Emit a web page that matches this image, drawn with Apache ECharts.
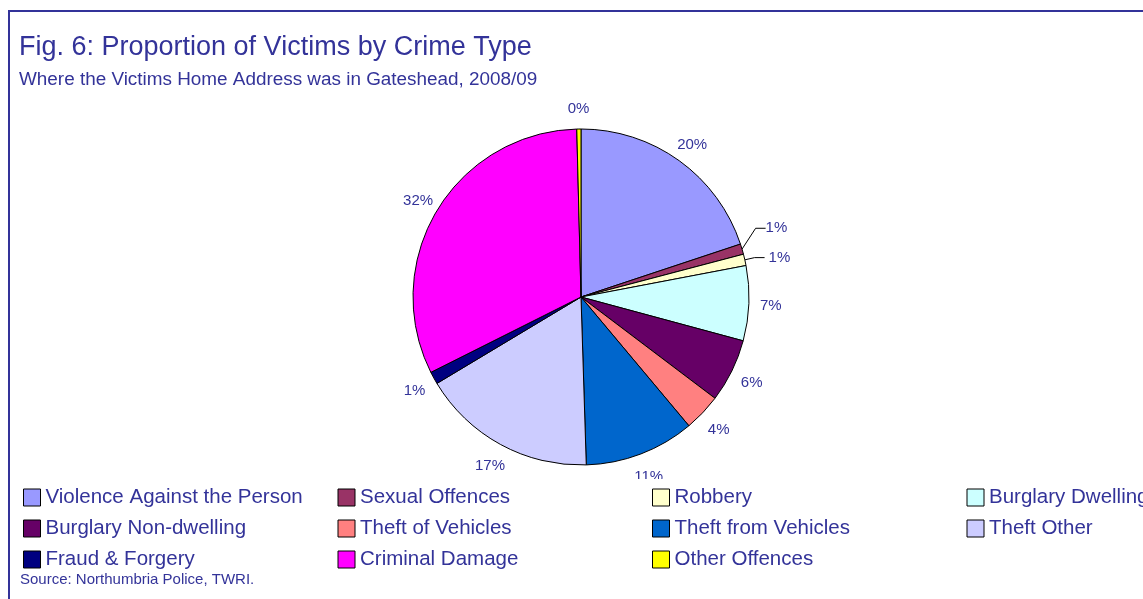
<!DOCTYPE html>
<html>
<head>
<meta charset="utf-8">
<script src="https://cdn.jsdelivr.net/npm/echarts@6/dist/echarts.min.js"></script>
<style>
html,body{margin:0;padding:0;background:#fff;}
#chart{width:1143px;height:599px;}
</style>
</head>
<body>
<div id="chart"></div>
<script>
const titleText = 'Fig. 6: Proportion of Victims by Crime Type';
const subtitleText = 'Where the Victims Home Address was in Gateshead, 2008/09';
const sourceText = 'Source: Northumbria Police, TWRI.';
const categories = [
  'Violence Against the Person', 'Sexual Offences', 'Robbery', 'Burglary Dwelling',
  'Burglary Non-dwelling', 'Theft of Vehicles', 'Theft from Vehicles', 'Theft Other',
  'Fraud & Forgery', 'Criminal Damage', 'Other Offences'
];
const shares = [19.9, 1.0, 1.1, 7.2, 6.1, 3.6, 10.6, 16.9, 1.2, 32.0, 0.4];
const colors = ['#9999FF', '#993366', '#FFFFCC', '#CCFFFF', '#660066', '#FF8080',
                '#0066CC', '#CCCCFF', '#000080', '#FF00FF', '#FFFF00'];
// items whose labels are pulled out with a leader line
const leaderItems = ['Sexual Offences', 'Robbery'];

const INK = '#333399';
const FONT = "'Liberation Sans', Arial, sans-serif";
const total = shares.reduce((a, b) => a + b, 0);
const pct = v => Math.round(v / total * 100) + '%';

const chart = echarts.init(document.getElementById('chart'), null, {renderer: 'canvas'});

const mainData = categories.map((name, i) => ({
  name, value: shares[i],
  itemStyle: {color: colors[i]},
  label: {show: leaderItems.includes(name)},
  labelLine: {show: leaderItems.includes(name)}
}));
const ringData = categories.map((name, i) => ({
  name, value: shares[i],
  label: {show: !leaderItems.includes(name)}
}));

chart.setOption({
  animation: false,
  color: colors,
  title: {
    text: titleText,
    subtext: subtitleText,
    left: 19, top: 34, padding: 0, itemGap: 9,
    textStyle: {fontFamily: FONT, fontSize: 27, fontWeight: 'normal', color: INK},
    subtextStyle: {fontFamily: FONT, fontSize: 18.9, color: INK}
  },
  legend: {
    data: categories,
    left: 23, top: 479, width: 1400,
    orient: 'horizontal',
    icon: 'rect',
    itemWidth: 17, itemHeight: 17, itemGap: 10,
    padding: [8, 0, 0, 0],
    backgroundColor: '#fff',
    z: 10,
    selectedMode: false,
    itemStyle: {borderColor: '#000', borderWidth: 1},
    textStyle: {fontFamily: FONT, fontSize: 20.5, lineHeight: 20, color: INK, width: 282}
  },
  graphic: [
    {type: 'rect', shape: {x: 9, y: 11, width: 1300, height: 800},
     style: {fill: 'none', stroke: INK, lineWidth: 2}, silent: true, z: 20},
    {type: 'text', left: 20, top: 572,
     style: {text: sourceText, font: '15px ' + FONT, fill: INK}, silent: true, z: 20}
  ],
  series: [
    {
      type: 'pie',
      center: [581, 297],
      radius: 168,
      startAngle: 90,
      clockwise: true,
      avoidLabelOverlap: false,
      silent: true,
      itemStyle: {borderColor: '#000', borderWidth: 1},
      label: {
        position: 'outside',
        formatter: p => pct(p.value),
        fontFamily: FONT, fontSize: 15, color: INK,
        distanceToLabelLine: 4
      },
      labelLine: {length: 10, length2: 10, lineStyle: {color: '#000', width: 1}},
      labelLayout: function (p) {
        if (p.dataIndex === 1) {
          return {y: p.labelRect.y + p.labelRect.height / 2 - 18};
        }
        return {};
      },
      emphasis: {disabled: true},
      data: mainData
    },
    {
      type: 'pie',
      center: [581, 299],
      radius: [173, 201],
      startAngle: 90,
      clockwise: true,
      avoidLabelOverlap: false,
      silent: true,
      itemStyle: {color: 'rgba(0,0,0,0)', borderWidth: 0},
      label: {
        position: 'inside',
        formatter: p => pct(p.value),
        fontFamily: FONT, fontSize: 15, color: INK
      },
      labelLine: {show: false},
      emphasis: {disabled: true},
      data: ringData
    }
  ]
});
</script>
</body>
</html>
